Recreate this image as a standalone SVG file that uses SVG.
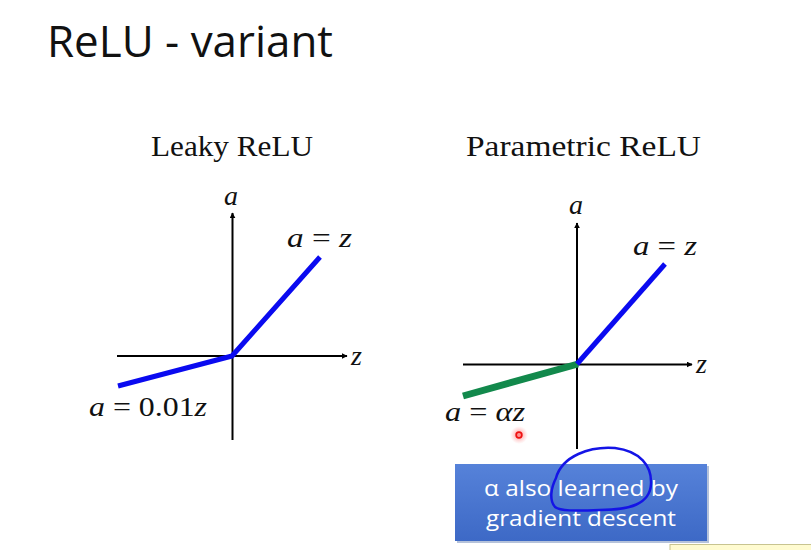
<svg xmlns="http://www.w3.org/2000/svg" width="811" height="550" viewBox="0 0 811 550">
<style>
.title{font-family:"Open Sans","Liberation Sans",sans-serif;font-size:44px;fill:#111;}
.sub{font-family:"Liberation Serif","DejaVu Serif",serif;font-size:30px;fill:#111;}
.math{font-family:"Liberation Serif","DejaVu Serif",serif;font-size:28px;fill:#111;}
.it{font-style:italic;}
.axis{stroke:#000;stroke-width:2;fill:none;}
.blue{stroke:#0a0af0;stroke-width:5;fill:none;stroke-linecap:butt;stroke-linejoin:round;}
.green{stroke:#12894c;stroke-width:7;fill:none;}
.box{font-family:"Open Sans","Liberation Sans",sans-serif;font-size:22px;fill:#fff;}
</style>
<defs>
<marker id="arr" viewBox="0 0 10 10" refX="9" refY="5" markerWidth="6" markerHeight="6" orient="auto" markerUnits="userSpaceOnUse">
<path d="M0,0 L10,5 L0,10 z" fill="#000"/>
</marker>
<linearGradient id="bg" x1="0" y1="0" x2="0" y2="1">
<stop offset="0" stop-color="#5682d9"/>
<stop offset="1" stop-color="#3d69c6"/>
</linearGradient>
<radialGradient id="glow">
<stop offset="0" stop-color="#ff3030" stop-opacity="0.6"/>
<stop offset="1" stop-color="#ff8080" stop-opacity="0"/>
</radialGradient>
</defs>
<rect width="811" height="550" fill="#fff"/>
<text class="title" x="47" y="57" textLength="286" lengthAdjust="spacingAndGlyphs">ReLU - variant</text>

<g id="leaky">
<text class="sub" x="151" y="156" textLength="162" lengthAdjust="spacingAndGlyphs">Leaky ReLU</text>
<g class="connectors">
<line class="axis" x1="232.5" y1="440" x2="232.5" y2="213" marker-end="url(#arr)"/>
<line class="axis" x1="117" y1="356" x2="347" y2="356" marker-end="url(#arr)"/>
<polyline class="blue" points="118,386 232,356 320,257"/>
</g>
<text class="math it" x="224" y="205">a</text>
<text class="math it" x="351" y="365">z</text>
<text class="math" x="287" y="247" textLength="65" lengthAdjust="spacingAndGlyphs"><tspan class="it">a</tspan> = <tspan class="it">z</tspan></text>
<text class="math" x="89" y="416" textLength="118" lengthAdjust="spacingAndGlyphs"><tspan class="it">a</tspan> = 0.01<tspan class="it">z</tspan></text>
</g>

<g id="parametric">
<text class="sub" x="466" y="156" textLength="235" lengthAdjust="spacingAndGlyphs">Parametric ReLU</text>
<g class="connectors">
<line class="axis" x1="577" y1="449" x2="577" y2="223" marker-end="url(#arr)"/>
<line class="axis" x1="463" y1="364.5" x2="692" y2="364.5" marker-end="url(#arr)"/>
<line class="green" x1="463" y1="396" x2="578" y2="364"/>
<line class="blue" x1="577" y1="364" x2="665" y2="264"/>
</g>
<text class="math it" x="569" y="214">a</text>
<text class="math it" x="696" y="373">z</text>
<text class="math" x="633" y="255" textLength="64" lengthAdjust="spacingAndGlyphs"><tspan class="it">a</tspan> = <tspan class="it">z</tspan></text>
<text class="math" x="445" y="421" textLength="80" lengthAdjust="spacingAndGlyphs"><tspan class="it">a</tspan> = <tspan class="it">αz</tspan></text>
</g>

<g id="note">
<rect x="457" y="466" width="252" height="77" fill="#2c4f96" opacity="0.35"/>
<rect x="455" y="464" width="252" height="77" fill="url(#bg)"/>
<text class="box" x="484" y="496" textLength="194" lengthAdjust="spacingAndGlyphs">α also learned by</text>
<text class="box" x="486" y="526" textLength="190" lengthAdjust="spacingAndGlyphs">gradient descent</text>
</g>

<g id="annotations">
<path d="M556,478 C562,456 590,446 615,448 C640,451 652,466 651,484 C650,504 630,510 600,510 C575,511 560,511 555,507 C549,500 551,488 556,478" fill="none" stroke="#1414e6" stroke-width="2.5" stroke-linecap="round"/>
<circle cx="519" cy="435" r="9" fill="url(#glow)"/>
<circle cx="519" cy="435" r="2.8" fill="none" stroke="#ee1111" stroke-width="1.8"/>
</g>

<rect x="670" y="544.5" width="150" height="10" fill="#fffbd0" stroke="#c8c490" stroke-width="1"/>
</svg>
